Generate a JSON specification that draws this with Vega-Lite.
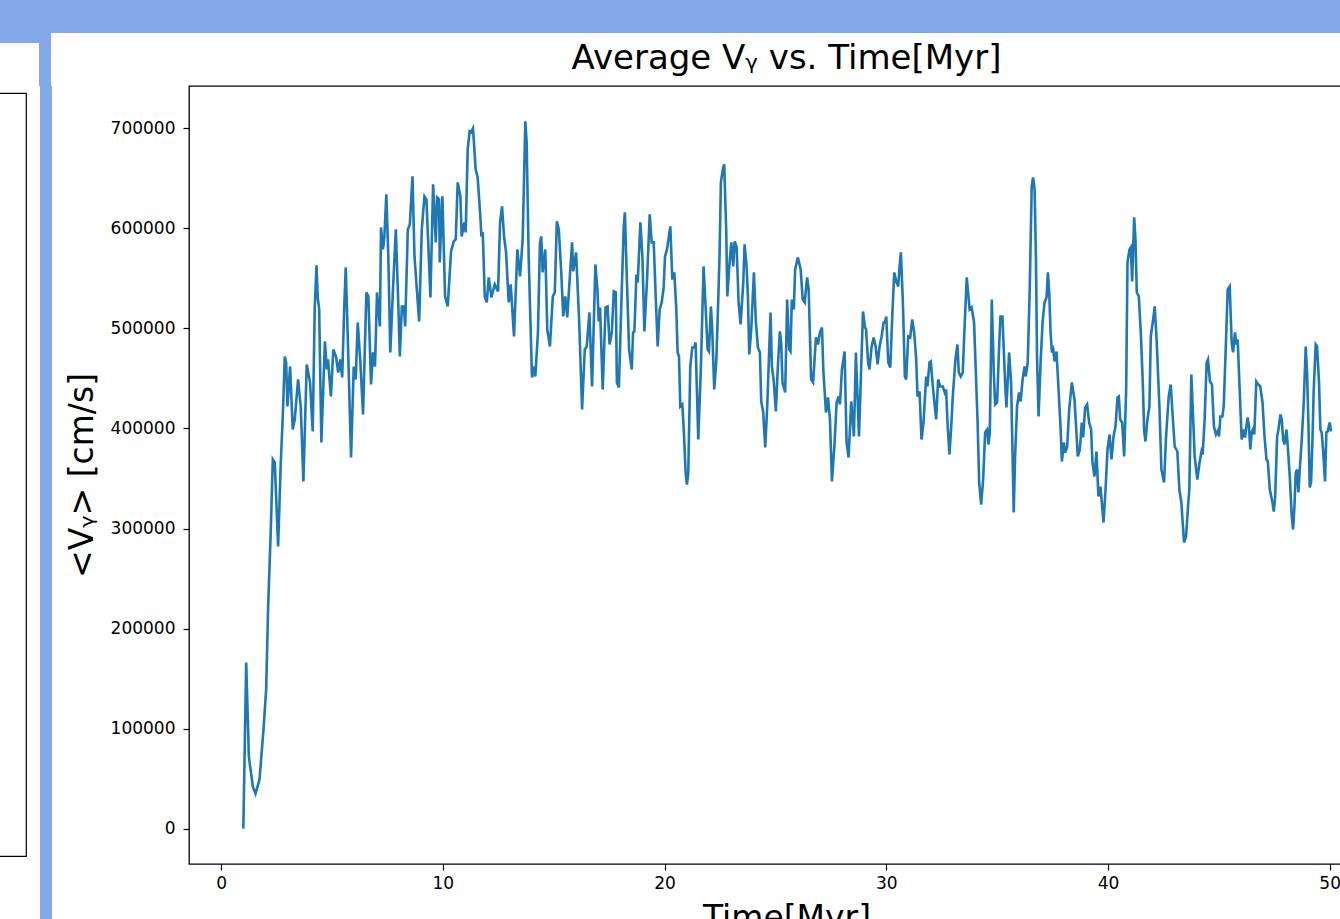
{
"$schema": "https://vega.github.io/schema/vega-lite/v6.json",
"background": "white",
"padding": {"left": -3, "top": 0, "right": 0, "bottom": 0},
"config": {"view": {"stroke": null}, "font": "DejaVu Sans"},
"datasets": {"vy": [
{"t":1.00,"v":0},{"t":1.13,"v":166000},{"t":1.25,"v":72000},{"t":1.43,"v":42000},{"t":1.55,"v":35000},{"t":1.73,"v":49000},{"t":1.91,"v":99000},{"t":2.03,"v":139000},{"t":2.12,"v":222000},{"t":2.24,"v":299000},{"t":2.33,"v":369000},{"t":2.42,"v":366000},{"t":2.48,"v":332000},{"t":2.57,"v":282000},{"t":2.69,"v":366000},{"t":2.78,"v":412000},{"t":2.87,"v":472000},{"t":2.93,"v":466000},{"t":2.99,"v":422000},{"t":3.11,"v":462000},{"t":3.23,"v":399000},{"t":3.32,"v":409000},{"t":3.47,"v":449000},{"t":3.59,"v":422000},{"t":3.71,"v":347000},{"t":3.86,"v":464000},{"t":4.01,"v":446000},{"t":4.13,"v":397000},{"t":4.22,"v":520000},{"t":4.30,"v":563000},{"t":4.36,"v":530000},{"t":4.42,"v":520000},{"t":4.52,"v":386000},{"t":4.68,"v":487000},{"t":4.77,"v":459000},{"t":4.82,"v":469000},{"t":4.95,"v":432000},{"t":5.06,"v":479000},{"t":5.18,"v":472000},{"t":5.28,"v":456000},{"t":5.37,"v":469000},{"t":5.46,"v":451000},{"t":5.55,"v":520000},{"t":5.62,"v":561000},{"t":5.70,"v":500000},{"t":5.86,"v":371000},{"t":5.98,"v":462000},{"t":6.07,"v":449000},{"t":6.16,"v":506000},{"t":6.28,"v":466000},{"t":6.40,"v":414000},{"t":6.55,"v":536000},{"t":6.64,"v":532000},{"t":6.76,"v":444000},{"t":6.85,"v":476000},{"t":6.94,"v":462000},{"t":7.03,"v":536000},{"t":7.16,"v":502000},{"t":7.21,"v":601000},{"t":7.30,"v":579000},{"t":7.36,"v":591000},{"t":7.45,"v":634000},{"t":7.54,"v":572000},{"t":7.63,"v":476000},{"t":7.75,"v":539000},{"t":7.88,"v":599000},{"t":7.97,"v":539000},{"t":8.06,"v":472000},{"t":8.15,"v":522000},{"t":8.24,"v":522000},{"t":8.30,"v":502000},{"t":8.42,"v":599000},{"t":8.51,"v":604000},{"t":8.63,"v":652000},{"t":8.72,"v":572000},{"t":8.93,"v":507000},{"t":9.05,"v":599000},{"t":9.17,"v":632000},{"t":9.26,"v":629000},{"t":9.44,"v":531000},{"t":9.56,"v":644000},{"t":9.68,"v":586000},{"t":9.74,"v":631000},{"t":9.83,"v":629000},{"t":9.86,"v":566000},{"t":9.98,"v":632000},{"t":10.10,"v":532000},{"t":10.22,"v":522000},{"t":10.37,"v":577000},{"t":10.49,"v":587000},{"t":10.58,"v":589000},{"t":10.67,"v":646000},{"t":10.79,"v":632000},{"t":10.85,"v":592000},{"t":10.97,"v":606000},{"t":11.03,"v":596000},{"t":11.12,"v":679000},{"t":11.21,"v":697000},{"t":11.27,"v":696000},{"t":11.36,"v":700000},{"t":11.48,"v":659000},{"t":11.57,"v":651000},{"t":11.69,"v":612000},{"t":11.74,"v":592000},{"t":11.80,"v":596000},{"t":11.89,"v":532000},{"t":11.98,"v":526000},{"t":12.07,"v":551000},{"t":12.19,"v":531000},{"t":12.34,"v":544000},{"t":12.49,"v":537000},{"t":12.58,"v":606000},{"t":12.67,"v":622000},{"t":12.76,"v":592000},{"t":12.85,"v":576000},{"t":12.97,"v":526000},{"t":13.06,"v":544000},{"t":13.21,"v":492000},{"t":13.36,"v":579000},{"t":13.48,"v":552000},{"t":13.60,"v":589000},{"t":13.72,"v":707000},{"t":13.78,"v":686000},{"t":13.87,"v":572000},{"t":14.02,"v":451000},{"t":14.11,"v":462000},{"t":14.17,"v":452000},{"t":14.29,"v":496000},{"t":14.38,"v":586000},{"t":14.44,"v":592000},{"t":14.50,"v":556000},{"t":14.62,"v":579000},{"t":14.71,"v":499000},{"t":14.83,"v":482000},{"t":14.96,"v":532000},{"t":15.05,"v":536000},{"t":15.14,"v":607000},{"t":15.23,"v":599000},{"t":15.34,"v":556000},{"t":15.43,"v":512000},{"t":15.52,"v":532000},{"t":15.61,"v":511000},{"t":15.74,"v":556000},{"t":15.83,"v":586000},{"t":15.88,"v":557000},{"t":16.01,"v":576000},{"t":16.15,"v":506000},{"t":16.28,"v":419000},{"t":16.40,"v":479000},{"t":16.49,"v":482000},{"t":16.61,"v":516000},{"t":16.73,"v":442000},{"t":16.88,"v":564000},{"t":16.97,"v":539000},{"t":17.03,"v":507000},{"t":17.09,"v":521000},{"t":17.21,"v":439000},{"t":17.34,"v":521000},{"t":17.43,"v":522000},{"t":17.52,"v":484000},{"t":17.62,"v":496000},{"t":17.71,"v":537000},{"t":17.80,"v":536000},{"t":17.85,"v":446000},{"t":17.94,"v":441000},{"t":18.07,"v":539000},{"t":18.16,"v":602000},{"t":18.21,"v":616000},{"t":18.30,"v":549000},{"t":18.40,"v":479000},{"t":18.52,"v":459000},{"t":18.58,"v":496000},{"t":18.64,"v":497000},{"t":18.73,"v":554000},{"t":18.79,"v":546000},{"t":18.91,"v":606000},{"t":19.00,"v":572000},{"t":19.09,"v":497000},{"t":19.21,"v":549000},{"t":19.33,"v":614000},{"t":19.42,"v":586000},{"t":19.51,"v":586000},{"t":19.60,"v":532000},{"t":19.69,"v":482000},{"t":19.78,"v":519000},{"t":19.87,"v":526000},{"t":19.96,"v":541000},{"t":20.02,"v":572000},{"t":20.11,"v":579000},{"t":20.26,"v":602000},{"t":20.35,"v":549000},{"t":20.44,"v":556000},{"t":20.53,"v":519000},{"t":20.59,"v":476000},{"t":20.65,"v":472000},{"t":20.71,"v":422000},{"t":20.80,"v":424000},{"t":20.86,"v":402000},{"t":20.95,"v":356000},{"t":21.01,"v":344000},{"t":21.07,"v":356000},{"t":21.16,"v":462000},{"t":21.25,"v":481000},{"t":21.34,"v":481000},{"t":21.40,"v":486000},{"t":21.52,"v":389000},{"t":21.64,"v":462000},{"t":21.76,"v":562000},{"t":21.85,"v":522000},{"t":21.94,"v":479000},{"t":22.00,"v":477000},{"t":22.09,"v":522000},{"t":22.15,"v":499000},{"t":22.24,"v":439000},{"t":22.33,"v":466000},{"t":22.39,"v":506000},{"t":22.48,"v":572000},{"t":22.54,"v":646000},{"t":22.63,"v":659000},{"t":22.69,"v":664000},{"t":22.78,"v":599000},{"t":22.83,"v":532000},{"t":22.92,"v":562000},{"t":23.01,"v":586000},{"t":23.10,"v":562000},{"t":23.16,"v":587000},{"t":23.25,"v":582000},{"t":23.34,"v":526000},{"t":23.43,"v":504000},{"t":23.55,"v":546000},{"t":23.61,"v":584000},{"t":23.70,"v":562000},{"t":23.76,"v":532000},{"t":23.82,"v":474000},{"t":23.91,"v":499000},{"t":24.03,"v":556000},{"t":24.12,"v":506000},{"t":24.21,"v":481000},{"t":24.30,"v":476000},{"t":24.36,"v":427000},{"t":24.45,"v":416000},{"t":24.54,"v":381000},{"t":24.63,"v":422000},{"t":24.72,"v":479000},{"t":24.78,"v":516000},{"t":24.84,"v":462000},{"t":24.93,"v":446000},{"t":25.02,"v":417000},{"t":25.11,"v":462000},{"t":25.20,"v":497000},{"t":25.26,"v":486000},{"t":25.32,"v":446000},{"t":25.44,"v":436000},{"t":25.53,"v":529000},{"t":25.62,"v":479000},{"t":25.68,"v":477000},{"t":25.74,"v":529000},{"t":25.83,"v":519000},{"t":25.89,"v":559000},{"t":26.01,"v":571000},{"t":26.14,"v":559000},{"t":26.23,"v":529000},{"t":26.32,"v":526000},{"t":26.43,"v":551000},{"t":26.50,"v":539000},{"t":26.61,"v":449000},{"t":26.70,"v":446000},{"t":26.83,"v":491000},{"t":26.92,"v":484000},{"t":27.01,"v":496000},{"t":27.10,"v":501000},{"t":27.16,"v":459000},{"t":27.28,"v":416000},{"t":27.37,"v":431000},{"t":27.46,"v":409000},{"t":27.55,"v":347000},{"t":27.67,"v":386000},{"t":27.76,"v":426000},{"t":27.85,"v":432000},{"t":27.91,"v":424000},{"t":28.00,"v":459000},{"t":28.12,"v":477000},{"t":28.21,"v":386000},{"t":28.30,"v":371000},{"t":28.42,"v":427000},{"t":28.54,"v":392000},{"t":28.63,"v":476000},{"t":28.77,"v":392000},{"t":28.95,"v":517000},{"t":29.04,"v":501000},{"t":29.09,"v":499000},{"t":29.18,"v":466000},{"t":29.24,"v":459000},{"t":29.34,"v":482000},{"t":29.43,"v":491000},{"t":29.52,"v":482000},{"t":29.61,"v":464000},{"t":29.70,"v":482000},{"t":29.79,"v":492000},{"t":29.88,"v":506000},{"t":29.94,"v":506000},{"t":30.00,"v":512000},{"t":30.09,"v":466000},{"t":30.18,"v":461000},{"t":30.27,"v":512000},{"t":30.36,"v":556000},{"t":30.45,"v":547000},{"t":30.54,"v":542000},{"t":30.60,"v":562000},{"t":30.66,"v":576000},{"t":30.75,"v":526000},{"t":30.84,"v":452000},{"t":30.90,"v":449000},{"t":30.99,"v":492000},{"t":31.08,"v":491000},{"t":31.17,"v":509000},{"t":31.26,"v":496000},{"t":31.35,"v":469000},{"t":31.41,"v":432000},{"t":31.50,"v":437000},{"t":31.59,"v":389000},{"t":31.68,"v":406000},{"t":31.80,"v":452000},{"t":31.86,"v":442000},{"t":31.95,"v":466000},{"t":32.01,"v":467000},{"t":32.10,"v":442000},{"t":32.25,"v":409000},{"t":32.34,"v":449000},{"t":32.43,"v":442000},{"t":32.55,"v":442000},{"t":32.64,"v":436000},{"t":32.70,"v":439000},{"t":32.76,"v":406000},{"t":32.85,"v":374000},{"t":32.94,"v":406000},{"t":33.00,"v":432000},{"t":33.12,"v":469000},{"t":33.21,"v":484000},{"t":33.27,"v":456000},{"t":33.36,"v":452000},{"t":33.45,"v":456000},{"t":33.54,"v":506000},{"t":33.63,"v":551000},{"t":33.76,"v":519000},{"t":33.85,"v":521000},{"t":33.96,"v":506000},{"t":34.12,"v":406000},{"t":34.19,"v":346000},{"t":34.28,"v":324000},{"t":34.37,"v":349000},{"t":34.46,"v":396000},{"t":34.55,"v":399000},{"t":34.61,"v":384000},{"t":34.67,"v":396000},{"t":34.76,"v":529000},{"t":34.85,"v":456000},{"t":34.91,"v":424000},{"t":35.00,"v":426000},{"t":35.09,"v":482000},{"t":35.15,"v":512000},{"t":35.24,"v":512000},{"t":35.30,"v":479000},{"t":35.36,"v":446000},{"t":35.42,"v":421000},{"t":35.54,"v":476000},{"t":35.63,"v":446000},{"t":35.75,"v":316000},{"t":35.81,"v":372000},{"t":35.90,"v":422000},{"t":35.99,"v":436000},{"t":36.06,"v":427000},{"t":36.15,"v":449000},{"t":36.24,"v":462000},{"t":36.29,"v":452000},{"t":36.38,"v":466000},{"t":36.47,"v":539000},{"t":36.56,"v":642000},{"t":36.62,"v":651000},{"t":36.69,"v":639000},{"t":36.75,"v":572000},{"t":36.80,"v":472000},{"t":36.87,"v":412000},{"t":36.96,"v":466000},{"t":37.05,"v":506000},{"t":37.14,"v":526000},{"t":37.23,"v":531000},{"t":37.29,"v":556000},{"t":37.35,"v":536000},{"t":37.41,"v":496000},{"t":37.47,"v":476000},{"t":37.53,"v":479000},{"t":37.59,"v":467000},{"t":37.68,"v":477000},{"t":37.77,"v":439000},{"t":37.86,"v":402000},{"t":37.92,"v":367000},{"t":38.01,"v":386000},{"t":38.07,"v":376000},{"t":38.16,"v":382000},{"t":38.25,"v":419000},{"t":38.37,"v":446000},{"t":38.49,"v":429000},{"t":38.55,"v":406000},{"t":38.64,"v":372000},{"t":38.73,"v":379000},{"t":38.82,"v":406000},{"t":38.88,"v":391000},{"t":38.97,"v":421000},{"t":39.06,"v":424000},{"t":39.15,"v":406000},{"t":39.24,"v":399000},{"t":39.30,"v":366000},{"t":39.39,"v":352000},{"t":39.48,"v":377000},{"t":39.57,"v":332000},{"t":39.66,"v":342000},{"t":39.80,"v":306000},{"t":39.89,"v":339000},{"t":39.98,"v":379000},{"t":40.07,"v":394000},{"t":40.16,"v":369000},{"t":40.25,"v":392000},{"t":40.34,"v":402000},{"t":40.43,"v":431000},{"t":40.49,"v":432000},{"t":40.55,"v":409000},{"t":40.64,"v":406000},{"t":40.73,"v":372000},{"t":40.82,"v":439000},{"t":40.88,"v":566000},{"t":40.97,"v":579000},{"t":41.03,"v":581000},{"t":41.09,"v":547000},{"t":41.18,"v":611000},{"t":41.24,"v":589000},{"t":41.30,"v":536000},{"t":41.39,"v":532000},{"t":41.48,"v":496000},{"t":41.57,"v":446000},{"t":41.63,"v":399000},{"t":41.69,"v":387000},{"t":41.78,"v":409000},{"t":41.87,"v":422000},{"t":41.93,"v":492000},{"t":42.02,"v":506000},{"t":42.11,"v":522000},{"t":42.20,"v":486000},{"t":42.32,"v":422000},{"t":42.41,"v":359000},{"t":42.53,"v":346000},{"t":42.62,"v":392000},{"t":42.74,"v":432000},{"t":42.83,"v":444000},{"t":42.92,"v":412000},{"t":43.01,"v":382000},{"t":43.13,"v":377000},{"t":43.22,"v":339000},{"t":43.31,"v":326000},{"t":43.43,"v":286000},{"t":43.52,"v":292000},{"t":43.61,"v":322000},{"t":43.67,"v":339000},{"t":43.76,"v":454000},{"t":43.85,"v":406000},{"t":43.91,"v":372000},{"t":44.03,"v":349000},{"t":44.13,"v":366000},{"t":44.22,"v":377000},{"t":44.27,"v":374000},{"t":44.36,"v":409000},{"t":44.45,"v":466000},{"t":44.51,"v":469000},{"t":44.60,"v":447000},{"t":44.69,"v":444000},{"t":44.78,"v":402000},{"t":44.87,"v":394000},{"t":44.96,"v":398000},{"t":45.01,"v":392000},{"t":45.07,"v":412000},{"t":45.16,"v":412000},{"t":45.22,"v":422000},{"t":45.31,"v":479000},{"t":45.40,"v":539000},{"t":45.49,"v":542000},{"t":45.58,"v":486000},{"t":45.64,"v":476000},{"t":45.73,"v":496000},{"t":45.79,"v":484000},{"t":45.85,"v":489000},{"t":45.94,"v":439000},{"t":46.03,"v":389000},{"t":46.12,"v":399000},{"t":46.18,"v":391000},{"t":46.30,"v":411000},{"t":46.36,"v":402000},{"t":46.42,"v":379000},{"t":46.48,"v":396000},{"t":46.54,"v":399000},{"t":46.60,"v":394000},{"t":46.69,"v":447000},{"t":46.78,"v":444000},{"t":46.87,"v":442000},{"t":46.97,"v":426000},{"t":47.06,"v":392000},{"t":47.15,"v":369000},{"t":47.21,"v":367000},{"t":47.30,"v":339000},{"t":47.42,"v":326000},{"t":47.48,"v":317000},{"t":47.54,"v":331000},{"t":47.63,"v":392000},{"t":47.69,"v":399000},{"t":47.78,"v":414000},{"t":47.84,"v":409000},{"t":47.90,"v":389000},{"t":47.96,"v":384000},{"t":48.05,"v":399000},{"t":48.11,"v":382000},{"t":48.20,"v":352000},{"t":48.29,"v":312000},{"t":48.35,"v":299000},{"t":48.41,"v":322000},{"t":48.47,"v":356000},{"t":48.53,"v":359000},{"t":48.59,"v":336000},{"t":48.65,"v":359000},{"t":48.74,"v":389000},{"t":48.83,"v":426000},{"t":48.92,"v":482000},{"t":48.98,"v":456000},{"t":49.04,"v":406000},{"t":49.10,"v":341000},{"t":49.16,"v":346000},{"t":49.22,"v":386000},{"t":49.28,"v":439000},{"t":49.37,"v":484000},{"t":49.43,"v":482000},{"t":49.52,"v":446000},{"t":49.58,"v":399000},{"t":49.64,"v":396000},{"t":49.70,"v":379000},{"t":49.79,"v":347000},{"t":49.85,"v":396000},{"t":49.91,"v":397000},{"t":50.00,"v":406000},{"t":50.06,"v":397000}
]},
"concat": [
  {"concat": [
    {"width": 41, "height": 43, "data": {"values": []}, "mark": {"type": "rect", "opacity": 0}, "view": {"fill": "#83a9e9", "stroke": null}},
    {"width": 12, "height": 86, "data": {"values": []}, "mark": {"type": "rect", "opacity": 0}, "view": {"fill": "#83a9e9", "stroke": null}},
    {"width": 1300, "height": 33, "data": {"values": []}, "mark": {"type": "rect", "opacity": 0}, "view": {"fill": "#83a9e9", "stroke": null}}
  ], "columns": 3, "spacing": 0},
  {"concat": [
    {"concat": [
      {"width": 28, "height": 6, "data": {"values": []}, "mark": {"type": "rect", "opacity": 0}, "view": {"fill": null, "stroke": null}},
      {"width": 28, "height": 763, "data": {"values": []}, "mark": {"type": "rect", "opacity": 0}, "view": {"fill": "white", "stroke": "black", "strokeWidth": 1.2}}
    ], "columns": 1, "spacing": 0},
    {"width": 12, "height": 834, "data": {"values": []}, "mark": {"type": "rect", "opacity": 0}, "view": {"fill": "#83a9e9", "stroke": null}},
    {
      "width": 1195, "height": 778,
      "data": {"name": "vy"},
      "view": {"stroke": "black", "strokeWidth": 1.3, "fill": "white"},
      "title": {"text": "Average Vᵧ vs. Time[Myr]", "fontSize": 34, "font": "DejaVu Sans", "fontWeight": "normal", "color": "black", "offset": 10, "frame": "group", "anchor": "middle"},
      "mark": {"type": "line", "color": "#1f77b4", "strokeWidth": 2.6, "clip": true},
      "encoding": {
        "x": {"field": "t", "type": "quantitative", "scale": {"domain": [-1.45, 52.45], "nice": false, "zero": false},
          "axis": {"values": [0, 10, 20, 30, 40, 50], "title": "Time[Myr]", "grid": false, "domain": false, "tickColor": "black", "tickSize": 6, "tickWidth": 1.2, "labelFontSize": 17, "labelColor": "black", "labelPadding": 5, "labelFlush": false, "labelFont": "DejaVu Sans", "titleFont": "DejaVu Sans", "titleFontSize": 33, "titleFontWeight": "normal", "titleColor": "black", "titlePadding": 11}},
        "y": {"field": "v", "type": "quantitative", "scale": {"domain": [-35350, 742350], "nice": false, "zero": false},
          "axis": {"values": [0, 100000, 200000, 300000, 400000, 500000, 600000, 700000], "format": "d", "title": "<Vᵧ> [cm/s]", "grid": false, "domain": false, "tickColor": "black", "tickSize": 6, "tickWidth": 1.2, "labelFontSize": 17, "labelColor": "black", "labelPadding": 8, "labelFont": "DejaVu Sans", "titleFont": "DejaVu Sans", "titleFontSize": 33, "titleFontWeight": "normal", "titleColor": "black", "titlePadding": 11}}
      }
    }
  ], "columns": 3, "spacing": 13}
],
"columns": 1,
"spacing": -45
}
